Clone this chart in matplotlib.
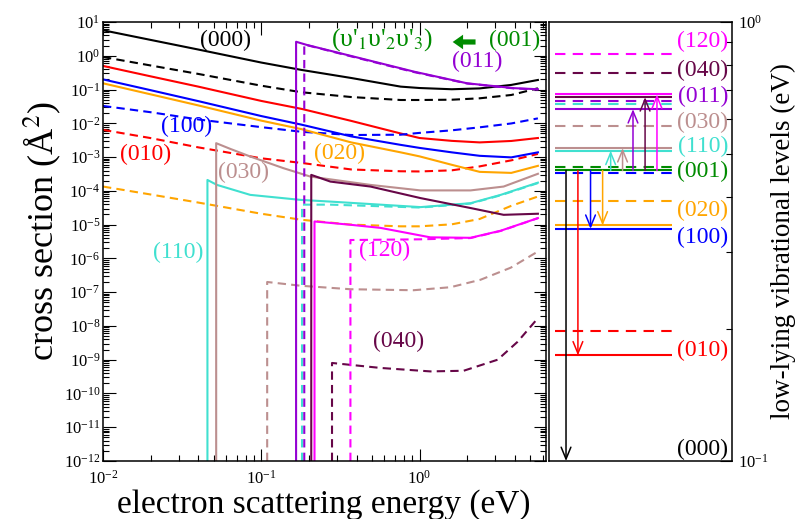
import matplotlib
matplotlib.use("Agg")
import matplotlib.pyplot as plt
from matplotlib.ticker import LogLocator, NullFormatter

plt.rcParams["font.family"] = ["Liberation Serif", "DejaVu Serif"]
plt.rcParams["mathtext.fontset"] = "stix"
plt.rcParams["axes.unicode_minus"] = False

# xmgrace palette
C000 = "black"
C010 = "#ff0000"
C100 = "#0000ff"
C020 = "#ffa500"
C001 = "#008b00"
C110 = "#40e0d0"
C030 = "#bc8f8f"
C011 = "#9400d3"
C040 = "#670748"
C120 = "#ff00ff"

# ---- cross sections (eV, A^2) ----
e_full = [0.01, 0.02, 0.04, 0.1, 0.18, 0.37, 0.76, 1.0, 1.6, 2.4, 3.8, 5.6]
s000 = [5.7, 2.95, 1.53, 0.63, 0.38, 0.22, 0.122, 0.111, 0.102, 0.108, 0.137, 0.192]
s000_d = [0.92, 0.516, 0.29, 0.13, 0.083, 0.060, 0.049, 0.049, 0.050, 0.055, 0.069, 0.109]
s010 = [0.50, 0.246, 0.122, 0.046, 0.0267, 0.0118, 0.0050, 0.00367, 0.00302, 0.00272, 0.0030, 0.00367]
s010_d = [6.4e-3, 3.65e-3, 1.94e-3, 9.2e-4, 6.7e-4, 4.3e-4, 3.8e-4, 3.75e-4, 4.05e-4, 5.3e-4, 8.0e-4, 1.24e-3]
s100 = [0.20, 0.0957, 0.0454, 0.0164, 0.0091, 0.0041, 0.0023, 0.00187, 0.00138, 0.00109, 0.00098, 0.00138]
s100_d = [0.0327, 0.0213, 0.013, 0.0077, 0.0056, 0.0045, 0.0046, 0.0052, 0.0062, 0.0076, 0.0099, 0.014]
s020 = [0.153, 0.0721, 0.0339, 0.012, 0.0067, 0.00272, 0.00138, 0.00105, 0.00059, 0.000365, 0.00034, 0.00055]
s020_d = [1.34e-4, 7.8e-5, 4.5e-5, 2.1e-5, 1.39e-5, 1.0e-5, 8.9e-6, 8.9e-6, 1.02e-5, 1.47e-5, 3.6e-5, 6.8e-5]

# threshold curves: (E_th, floor) then values above threshold
e110 = [0.0457, 0.0457, 0.0525, 0.0852, 0.177, 0.274, 1.015, 2.1, 3.26, 5.6]
s110 = [1e-12, 2.1e-4, 1.5e-4, 7.6e-5, 5.4e-5, 4.8e-5, 3.3e-5, 4.3e-5, 7.6e-5, 1.75e-4]
e110_d = [0.181, 0.181, 0.274, 1.015, 2.1, 3.26, 5.6]
s110_d = [1e-12, 3.9e-5, 3.9e-5, 3.2e-5, 4.2e-5, 7.4e-5, 1.7e-4]
e030 = [0.0519, 0.0519, 0.0637, 0.0852, 0.138, 0.204, 0.49, 1.015, 2.1, 3.4, 5.6]
s030 = [1e-12, 2.58e-3, 1.75e-3, 1.04e-3, 4.7e-4, 2.65e-4, 1.5e-4, 1.03e-4, 1.03e-4, 1.34e-4, 3.2e-4]
e030_d = [0.109, 0.109, 0.177, 0.366, 0.916, 1.57, 2.43, 3.77, 5.6]
s030_d = [1e-12, 2.0e-7, 1.55e-7, 1.22e-7, 1.14e-7, 1.4e-7, 2.33e-7, 5.3e-7, 1.6e-6]
e011 = [0.166, 0.166, 0.1945, 0.348, 0.758, 0.92, 2.0, 3.95, 5.6]
s011 = [1e-12, 2.6, 2.09, 1.06, 0.427, 0.34, 0.153, 0.11, 0.102]
e011_d = [0.187, 0.187, 0.348, 0.92, 2.0, 3.95, 5.6]
s011_d = [1e-12, 2.16, 1.03, 0.33, 0.151, 0.108, 0.10]
e040 = [0.207, 0.207, 0.2735, 0.49, 1.015, 2.1, 3.4, 5.6]
s040 = [1e-12, 2.97e-4, 1.88e-4, 1.34e-4, 6.1e-5, 3.1e-5, 1.95e-5, 2.1e-5]
e040_d = [0.28, 0.28, 0.567, 1.17, 1.9, 3.12, 4.17, 5.6]
s040_d = [1e-12, 8.0e-10, 5.7e-10, 4.5e-10, 4.7e-10, 1.0e-9, 3.4e-9, 1.7e-8]
e120 = [0.217, 0.217, 0.366, 0.567, 1.17, 2.1, 3.26, 5.6]
s120 = [1e-12, 1.24e-5, 9.9e-6, 8.0e-6, 4.2e-6, 4.07e-6, 6.6e-6, 1.56e-5]
e120_d = [0.366, 0.366, 1.015, 2.1, 3.26, 5.6]
s120_d = [1e-12, 3.5e-6, 3.67e-6, 4.0e-6, 6.5e-6, 1.55e-5]

# ---- vibrational levels (eV) ----
states = ["(010)", "(100)", "(020)", "(001)", "(110)", "(030)", "(011)", "(040)", "(120)"]
levels_solid = [0.174, 0.338, 0.344, 0.459, 0.509, 0.516, 0.633, 0.674, 0.684]
levels_dashed = [0.198, 0.4535, 0.391, 0.467, 0.650, 0.579, 0.662, 0.764, 0.8455]
state_colors = [C010, C100, C020, C001, C110, C030, C011, C040, C120]

DASH = (4, 2.5)
LW = 1.5

fig = plt.figure(figsize=(7.95, 5.19), dpi=100)
ax = fig.add_axes([103 / 795, 1 - 461 / 519, 443 / 795, 439 / 519])
ax2 = fig.add_axes([549 / 795, 1 - 461 / 519, 183 / 795, 439 / 519])

curves = [
    (e_full, s000, C000, False), (e_full, s000_d, C000, True),
    (e_full, s010, C010, False), (e_full, s010_d, C010, True),
    (e_full, s100, C100, False), (e_full, s100_d, C100, True),
    (e_full, s020, C020, False), (e_full, s020_d, C020, True),
    (e110, s110, C110, False), (e110_d, s110_d, C110, True),
    (e030, s030, C030, False), (e030_d, s030_d, C030, True),
    (e040, s040, C040, False), (e040_d, s040_d, C040, True),
    (e120, s120, C120, False), (e120_d, s120_d, C120, True),
    (e011, s011, C011, False), (e011_d, s011_d, C011, True),
]
for e, s, c, dashed in curves:
    if dashed:
        ax.plot(e, s, color=c, lw=LW, dashes=DASH)
    else:
        ax.plot(e, s, color=c, lw=LW)

ax.set_xscale("log")
ax.set_yscale("log")
ax.set_xlim(0.01, 6.3)
ax.set_ylim(1e-12, 10)
ax.xaxis.set_major_locator(LogLocator(base=10, numticks=10))
ax.xaxis.set_minor_locator(LogLocator(base=10, subs=range(2, 10), numticks=50))
ax.yaxis.set_major_locator(LogLocator(base=10, numticks=30))
ax.yaxis.set_minor_locator(LogLocator(base=10, subs=range(2, 10), numticks=200))
ax.xaxis.set_minor_formatter(NullFormatter())
ax.yaxis.set_minor_formatter(NullFormatter())
ax.tick_params(which="both", direction="in", top=True, right=True, width=0.8, labelsize=12)
ax.tick_params(which="major", length=9)
ax.tick_params(which="minor", length=4.5)
ax.tick_params(axis="y", pad=2)
ax.tick_params(axis="x", pad=6)

lab = dict(fontsize=17, ha="center", va="center")
ax.text(0.0592, 2.93, "(000)", color=C000, **lab)
ax.text(0.0335, 7.8e-3, "(100)", color=C100, **lab)
ax.text(0.01845, 1.16e-3, "(010)", color=C010, **lab)
ax.text(0.0769, 3.4e-4, "(030)", color=C030, **lab)
ax.text(0.0298, 1.47e-6, "(110)", color=C110, **lab)
ax.text(0.312, 1.24e-3, "(020)", color=C020, **lab)
ax.text(0.60, 1.68e-6, "(120)", color=C120, **lab)
ax.text(0.736, 3.4e-9, "(040)", color=C040, **lab)
ax.text(2.33, 0.656, "(011)", color=C011, **lab)
ax.text(0.583, 3.0, "(υ'$_1$υ'$_2$υ'$_3$)", color=C001, fontsize=18.5,
        ha="center", va="center")
ax.text(3.99, 2.9, "(001)", color=C001, **lab)
ax.annotate("", xy=(1.62, 2.56), xytext=(2.26, 2.56),
            arrowprops=dict(arrowstyle="simple,head_length=0.5,head_width=0.7,tail_width=0.25",
                            color=C001, lw=0, mutation_scale=15,
                            shrinkA=0, shrinkB=0))

# ---- right panel: level diagram ----
for lv, c in zip(levels_dashed, state_colors):
    ax2.hlines(lv, 0.033, 0.672, color=c, lw=LW, linestyles=(0, (5, 3.5)))
for lv, c in zip(levels_solid, state_colors):
    ax2.hlines(lv, 0.033, 0.672, color=c, lw=LW)

start = levels_solid[states.index("(001)")]
arrow_targets = [0.1] + [levels_solid[states.index(n)] for n in
                         ["(010)", "(100)", "(020)", "(110)", "(030)", "(011)", "(040)", "(120)"]]
arrow_colors = [C000, C010, C100, C020, C110, C030, C011, C040, C120]
arrow_x = [0.093, 0.158, 0.227, 0.293, 0.337, 0.402, 0.459, 0.525, 0.590]
for x, tgt, c in zip(arrow_x, arrow_targets, arrow_colors):
    ax2.annotate("", xy=(x, tgt), xytext=(x, start),
                 arrowprops=dict(arrowstyle="->,head_length=0.85,head_width=0.35",
                                 color=c, lw=1.1, shrinkA=0, shrinkB=0))

rlab = dict(fontsize=17, ha="right", va="center", transform=ax2.get_yaxis_transform())
ax2.text(0.98, 0.902, "(120)", color=C120, **rlab)
ax2.text(0.98, 0.777, "(040)", color=C040, **rlab)
ax2.text(0.98, 0.676, "(011)", color=C011, **rlab)
ax2.text(0.98, 0.590, "(030)", color=C030, **rlab)
ax2.text(0.98, 0.520, "(110)", color=C110, **rlab)
ax2.text(0.98, 0.456, "(001)", color=C001, **rlab)
ax2.text(0.98, 0.372, "(020)", color=C020, **rlab)
ax2.text(0.98, 0.323, "(100)", color=C100, **rlab)
ax2.text(0.98, 0.179, "(010)", color=C010, **rlab)
ax2.text(0.98, 0.1065, "(000)", color=C000, **rlab)

ax2.set_xlim(0, 1)
ax2.set_yscale("log")
ax2.set_ylim(0.1, 1)
ax2.set_xticks([])
ax2.yaxis.tick_right()
ax2.yaxis.set_major_locator(LogLocator(base=10, numticks=5))
ax2.yaxis.set_minor_locator(LogLocator(base=10, subs=range(2, 10), numticks=20))
ax2.yaxis.set_minor_formatter(NullFormatter())
ax2.tick_params(which="both", direction="in", width=0.8, labelsize=12, pad=4)
ax2.tick_params(which="major", length=9)
ax2.tick_params(which="minor", length=4.5)

for a in (ax, ax2):
    for sp in a.spines.values():
        sp.set_linewidth(1.1)

fig.text(324 / 795, 1 - 513 / 519, "electron scattering energy (eV)",
         fontsize=24, ha="center", va="baseline")
fig.text(42 / 795, 1 - 231 / 519, "cross section (Å$^2$)",
         fontsize=26, rotation=90, ha="center", va="center")
fig.text(783 / 795, 1 - 241 / 519, "low-lying vibrational levels (eV)",
         fontsize=19.5, rotation=90, ha="center", va="center")

fig.savefig("out.png", dpi=100)
